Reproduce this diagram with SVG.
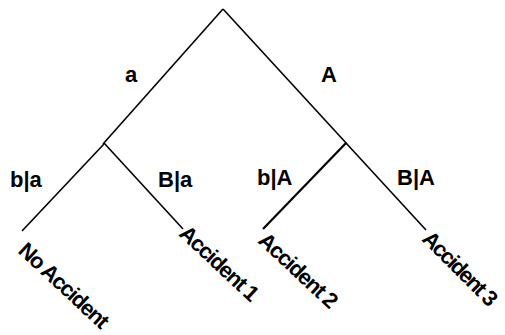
<svg xmlns="http://www.w3.org/2000/svg" width="505" height="335" viewBox="0 0 505 335">
<style>
.e{stroke:#000;stroke-width:1.6;fill:none;stroke-linecap:butt}
.t{font-family:"Liberation Sans",Arial,sans-serif;font-weight:bold;font-size:22px;fill:#000}
.r{font-family:"Liberation Sans",Arial,sans-serif;font-weight:bold;font-size:22px;letter-spacing:-1.3px;fill:#000}
</style>
<rect width="505" height="335" fill="#fff"/>
<g id="connectors">
<line class="e" x1="223" y1="9" x2="103" y2="144"/>
<line class="e" x1="223" y1="9" x2="347" y2="144"/>
<line class="e" x1="104" y1="144" x2="22" y2="231"/>
<line class="e" x1="104" y1="143" x2="183" y2="229"/>
<line class="e" x1="346" y1="143" x2="263" y2="229" style="stroke-width:2.2"/>
<line class="e" x1="346" y1="143" x2="426" y2="230"/>
</g>
<g id="label-a"><text class="t" x="131" y="82" text-anchor="middle">a</text></g>
<g id="label-A"><text class="t" x="329" y="82" text-anchor="middle">A</text></g>
<g id="label-ba"><text class="t" x="10" y="187">b|a</text></g>
<g id="label-Ba"><text class="t" x="158" y="187">B|a</text></g>
<g id="label-bA"><text class="t" x="257" y="185">b|A</text></g>
<g id="label-BA"><text class="t" x="397" y="185">B|A</text></g>
<g id="leaf-no-accident"><text class="r" transform="translate(17 252) rotate(43)">No Accident</text></g>
<g id="leaf-accident-1"><text class="r" transform="translate(178 235) rotate(43)">Accident 1</text></g>
<g id="leaf-accident-2"><text class="r" transform="translate(257 242) rotate(43)">Accident 2</text></g>
<g id="leaf-accident-3"><text class="r" transform="translate(421 240) rotate(45)" style="letter-spacing:-1.7px">Accident 3</text></g>
</svg>
